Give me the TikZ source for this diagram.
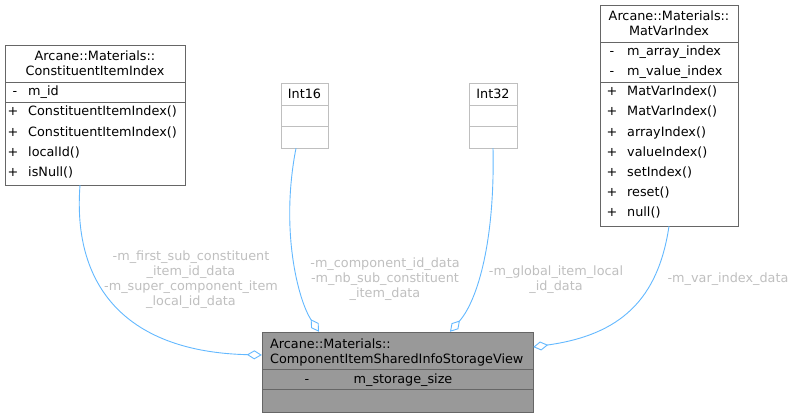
\documentclass[tikz,border=0pt]{standalone}
\usepackage{fontspec}
\setmainfont{DejaVu Sans}
\usetikzlibrary{arrows.meta}

\definecolor{edgeblue}{HTML}{63B8FF}
\definecolor{labelgray}{HTML}{BFBFBF}
\definecolor{boxline}{HTML}{666666}
\definecolor{extline}{HTML}{BFBFBF}
\definecolor{mainfill}{HTML}{999999}

\begin{document}
\begin{tikzpicture}[x=1pt, y=-1pt,
  font=\fontsize{12.8}{15}\selectfont,
  classbox/.style={draw=boxline, fill=white, rectangle, inner sep=0pt},
  extbox/.style={draw=extline, fill=white, rectangle, inner sep=0pt},
  mainbox/.style={draw=boxline, fill=mainfill, rectangle, inner sep=0pt},
  member/.style={inner sep=0pt, anchor=base west},
  title/.style={inner sep=0pt, anchor=base},
  edgelbl/.style={text=labelgray, align=center, inner sep=0pt},
  assoc/.style={draw=edgeblue, line width=0.9pt, -{Diamond[open, length=15pt, width=9pt]}}]
\useasboundingbox (0,0) rectangle (797,417);

% ConstituentItemIndex
\node[classbox, minimum width=180pt, minimum height=140pt] (cii) at (95,115) {};
\node[title] (cii-t1) at (95,61) {Arcane::Materials::};
\node[title] (cii-t2) at (95,76) {ConstituentItemIndex};
\draw[boxline] (5,82) -- (185,82);
\node[title] (cii-v1) at (15,96) {-};
\node[member] (cii-a1) at (28,96) {m\_id};
\draw[boxline] (5,102) -- (185,102);
\node[title] (cii-v2) at (13,116) {+};
\node[member] (cii-f1) at (28,116) {ConstituentItemIndex()};
\node[title] (cii-v3) at (13,136) {+};
\node[member] (cii-f2) at (28,136) {ConstituentItemIndex()};
\node[title] (cii-v4) at (13,156) {+};
\node[member] (cii-f3) at (28,156) {localId()};
\node[title] (cii-v5) at (13,176) {+};
\node[member] (cii-f4) at (28,176) {isNull()};

% Int16
\node[extbox, minimum width=47pt, minimum height=65pt] (int16) at (304.5,115.5) {};
\node[title] (int16-t) at (304.5,99) {Int16};
\draw[extline] (281,105) -- (328,105);
\draw[extline] (281,126) -- (328,126);

% Int32
\node[extbox, minimum width=48pt, minimum height=65pt] (int32) at (493,115.5) {};
\node[title] (int32-t) at (493,99) {Int32};
\draw[extline] (469,105) -- (517,105);
\draw[extline] (469,126) -- (517,126);

% MatVarIndex
\node[classbox, minimum width=138pt, minimum height=221pt] (mvi) at (669,115.5) {};
\node[title] (mvi-t1) at (669,21) {Arcane::Materials::};
\node[title] (mvi-t2) at (669,36) {MatVarIndex};
\draw[boxline] (600,42) -- (738,42);
\node[title] (mvi-v1) at (612,56) {-};
\node[member] (mvi-a1) at (627,56) {m\_array\_index};
\node[title] (mvi-v2) at (612,76) {-};
\node[member] (mvi-a2) at (627,76) {m\_value\_index};
\draw[boxline] (600,82) -- (738,82);
\node[title] (mvi-v3) at (612,96) {+};
\node[member] (mvi-f1) at (627,96) {MatVarIndex()};
\node[title] (mvi-v4) at (612,116) {+};
\node[member] (mvi-f2) at (627,116) {MatVarIndex()};
\node[title] (mvi-v5) at (612,136) {+};
\node[member] (mvi-f3) at (627,136) {arrayIndex()};
\node[title] (mvi-v6) at (612,156) {+};
\node[member] (mvi-f4) at (627,156) {valueIndex()};
\node[title] (mvi-v7) at (612,176) {+};
\node[member] (mvi-f5) at (627,176) {setIndex()};
\node[title] (mvi-v8) at (612,196) {+};
\node[member] (mvi-f6) at (627,196) {reset()};
\node[title] (mvi-v9) at (612,216) {+};
\node[member] (mvi-f7) at (627,216) {null()};

% ComponentItemSharedInfoStorageView
\node[mainbox, minimum width=271pt, minimum height=80pt] (storage) at (397.5,372) {};
\node[member] (storage-t1) at (270,348) {Arcane::Materials::};
\node[member] (storage-t2) at (270,363) {ComponentItemSharedInfoStorageView};
\draw[boxline] (262,369) -- (533,369);
\node[title] (storage-v1) at (307,383) {-};
\node[title] (storage-a1) at (403,383) {m\_storage\_size};
\draw[boxline] (262,389) -- (533,389);

% Associations
\draw[assoc] ([xshift=-15pt]cii.south) .. controls (72,290) and (130,352) .. ([yshift=17pt]storage.west);
\draw[assoc] ([xshift=-8.5pt]int16.south) .. controls (280,230) and (298,300) .. ([xshift=-78.5pt]storage.north);
\draw[assoc] (int32.south) .. controls (495,240) and (478,300) .. ([xshift=52.5pt]storage.north);
\draw[assoc] (mvi.south) .. controls (658,300) and (620,335) .. ([yshift=25pt]storage.east);

% Edge labels
\node[edgelbl] (lbl-cii) at (191,279.5) {-m\_first\_sub\_constituent\\\_item\_id\_data\\-m\_super\_component\_item\\\_local\_id\_data};
\node[edgelbl] (lbl-int16) at (385,279.5) {-m\_component\_id\_data\\-m\_nb\_sub\_constituent\\\_item\_data};
\node[edgelbl] (lbl-int32) at (556,279.5) {-m\_global\_item\_local\\\_id\_data};
\node[edgelbl] (lbl-mvi) at (728,279) {-m\_var\_index\_data};
\end{tikzpicture}
\end{document}
